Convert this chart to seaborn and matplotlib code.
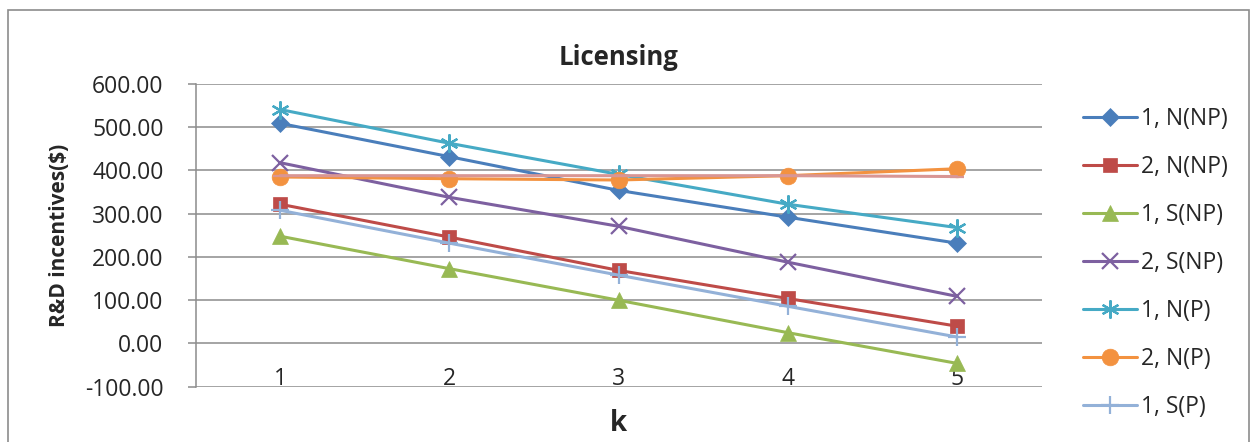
import matplotlib
matplotlib.use("Agg")
import matplotlib.pyplot as plt
import seaborn as sns
import pandas as pd
from matplotlib.patches import Rectangle
from matplotlib.ticker import FormatStrFormatter

# Categories (k) and R&D incentive series
k = [1, 2, 3, 4, 5]
n_np_1 = [509, 432, 354, 292, 232]
n_np_2 = [322, 246, 169, 104, 40]
s_np_1 = [248, 173, 100, 25, -46]
s_np_2 = [418, 338, 271, 188, 109]
n_p_1 = [541, 463, 391, 322, 268]
n_p_2 = [385, 381, 378, 388, 404]
s_p_1 = [308, 232, 158, 86, 15]
s_p_2 = [388, 388, 388, 388, 386]

series_names = ["1, N(NP)", "2, N(NP)", "1, S(NP)", "2, S(NP)",
                "1, N(P)", "2, N(P)", "1, S(P)", "2, S(P)"]
series_values = [n_np_1, n_np_2, s_np_1, s_np_2, n_p_1, n_p_2, s_p_1, s_p_2]
y_ticks = [-100, 0, 100, 200, 300, 400, 500, 600]

colors = ["#4A7EBB", "#BE4B48", "#98B954", "#7D60A0",
          "#46AAC5", "#F39240", "#93B1D8", "#D99694"]
markers = ["D", "s", "^", "x", (6, 2, 0), "o", "+", "_"]
msizes = [9.5, 10.5, 11, 11, 13, 12, 13, 10]

df = pd.DataFrame(
    [(name, kk, v) for name, vals in zip(series_names, series_values)
     for kk, v in zip(k, vals)],
    columns=["series", "k", "value"],
)

sns.set_theme(style="white")
plt.rcParams["font.family"] = ["Open Sans", "DejaVu Sans"]

fig = plt.figure(figsize=(12.57, 4.42), dpi=100)
W, H = 1257, 442
ax = fig.add_axes([195.5 / W, 1 - 386.7 / H, (1041.5 - 195.5) / W, (386.7 - 84) / H])

# Horizontal gridlines
for yv in y_ticks:
    ax.axhline(yv, color="#8C8C8C", lw=1.1, zorder=0)

for name, col, mk, ms in zip(series_names, colors, markers, msizes):
    sub = df[df["series"] == name]
    sns.lineplot(data=sub, x="k", y="value", ax=ax, color=col, lw=2.2,
                 marker=mk, markersize=ms, markeredgecolor=col,
                 markeredgewidth=1.6 if mk in ("x", "+", (6, 2, 0), "_") else 0.5,
                 label=name, zorder=3)

ax.set_xlim(0.5, 5.5)
ax.set_ylim(-100, 600)
ax.set_yticks(y_ticks)
ax.yaxis.set_major_formatter(FormatStrFormatter("%.2f"))
ax.set_xticks(k)
ax.set_xticklabels([str(v) for v in k])

for side in ["top", "right", "bottom"]:
    ax.spines[side].set_visible(False)
ax.spines["left"].set_color("#8C8C8C")
ax.spines["left"].set_linewidth(1.1)

ax.tick_params(axis="y", which="major", left=True, length=6, width=1.1,
               color="#8C8C8C", labelsize=16.5, pad=17)
ax.tick_params(axis="x", which="major", bottom=False, labelsize=16.5, pad=-20)

ax.set_xlabel("k", fontsize=20, fontweight="bold", labelpad=0)
ax.set_ylabel("R&D incentives($)", fontsize=15, fontweight="bold", labelpad=0)
ax.xaxis.set_label_coords(0.5, -0.075)
ax.yaxis.set_label_coords(-0.148, 0.5)
ax.set_title("Licensing", fontsize=18.5, fontweight="bold", pad=14)

# Legend: the last entry falls below the chart frame and is not listed
handles, labels = ax.get_legend_handles_labels()
ax.legend(handles[:7], labels[:7], loc="upper left",
          bbox_to_anchor=(1083 / W, 1 - 107 / H),
          bbox_transform=fig.transFigure, frameon=False, fontsize=16.5,
          handlelength=2.35, handletextpad=0.2, labelspacing=1.05,
          borderaxespad=0, borderpad=0)

# Chart frame
fig.patches.append(Rectangle((8 / W, -0.01), (1249 - 8) / W, 1 - 10 / H + 0.01,
                             transform=fig.transFigure, fill=False,
                             edgecolor="#8C8C8C", lw=1.2))

fig.savefig("out.png", dpi=100, facecolor="white")
